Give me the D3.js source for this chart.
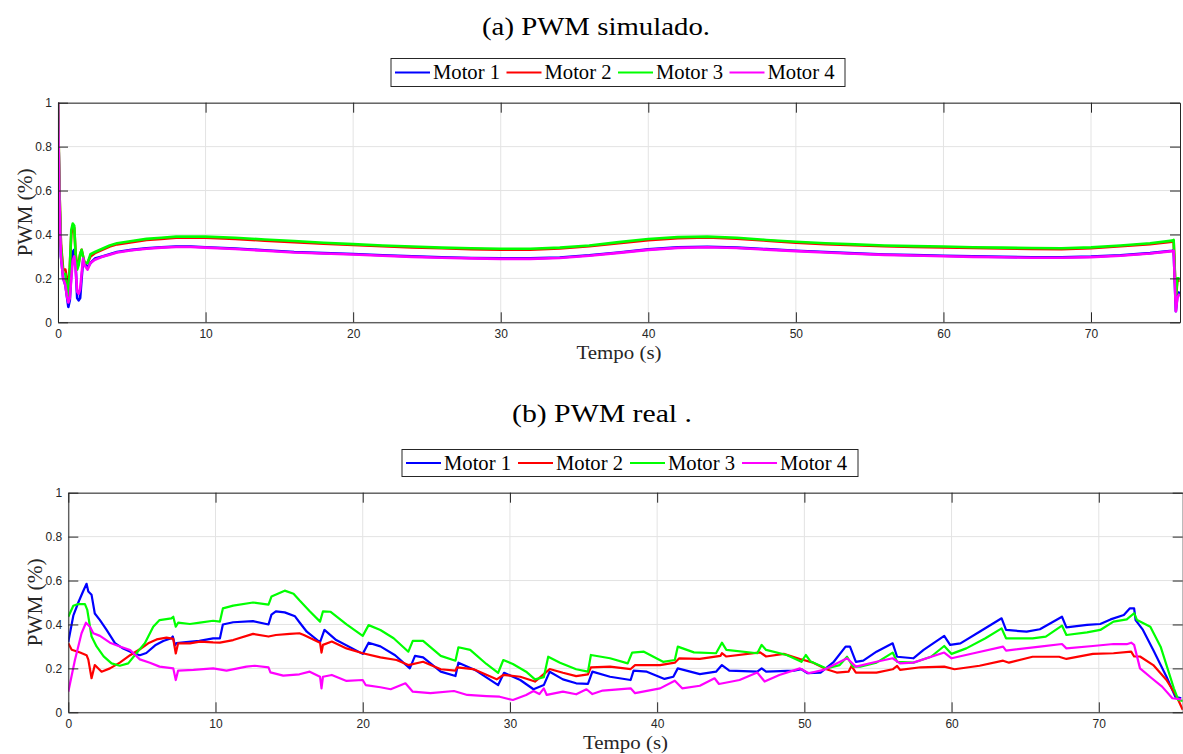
<!DOCTYPE html>
<html>
<head>
<meta charset="utf-8">
<script src="https://cdn.jsdelivr.net/npm/d3@7"></script>
<style>
  html, body { margin: 0; padding: 0; background: #fff; }
  svg { display: block; }
</style>
</head>
<body>
<svg id="chart" width="1183" height="754"></svg>
<script>
// ---------------- DATA ----------------
const seriesNames = ["Motor 1", "Motor 2", "Motor 3", "Motor 4"];
const seriesColors = ["#0000ff", "#ff0000", "#00ff00", "#ff00ff"];
const xTicks = [0, 10, 20, 30, 40, 50, 60, 70];
const yTicks = [0, 0.2, 0.4, 0.6, 0.8, 1];
const titleA = "(a) PWM simulado.";
const titleB = "(b) PWM real .";
const xLabel = "Tempo (s)";
const yLabel = "PWM (%)";

// (a) simulated — shared time base
const simT = [0, 0.1, 0.2, 0.35, 0.5, 0.6, 0.7, 0.8, 0.9, 1.0, 1.1, 1.2, 1.3, 1.4, 1.5, 1.6, 1.7, 1.8, 2.0, 2.2, 2.5, 3, 3.5, 4, 5, 6, 7, 8, 9, 10, 12, 14, 16, 18, 20, 22, 24, 26, 28, 30, 32, 34, 36, 38, 40, 42, 44, 46, 48, 50, 52, 54, 56, 58, 60, 62, 64, 66, 68, 70, 72, 74, 75.5, 75.6, 75.75, 75.85, 76];
const simM1 = [1.0, 0.55, 0.3, 0.2, 0.17, 0.12, 0.07, 0.1, 0.22, 0.32, 0.33, 0.25, 0.11, 0.1, 0.11, 0.2, 0.28, 0.27, 0.25, 0.27, 0.29, 0.3, 0.31, 0.32, 0.33, 0.337, 0.342, 0.345, 0.345, 0.342, 0.336, 0.328, 0.32, 0.315, 0.311, 0.305, 0.3, 0.296, 0.293, 0.291, 0.291, 0.295, 0.305, 0.318, 0.332, 0.341, 0.344, 0.34, 0.333, 0.326, 0.32, 0.314, 0.309, 0.306, 0.303, 0.3, 0.298, 0.296, 0.296, 0.299, 0.305, 0.315, 0.326, 0.328, 0.05, 0.12, 0.14];
const simM2 = [1.0, 0.6, 0.36, 0.24, 0.24, 0.2, 0.16, 0.25, 0.4, 0.44, 0.43, 0.31, 0.25, 0.27, 0.31, 0.33, 0.3, 0.27, 0.27, 0.3, 0.315, 0.33, 0.345, 0.355, 0.365, 0.375, 0.38, 0.385, 0.386, 0.385, 0.38, 0.372, 0.365, 0.358, 0.352, 0.346, 0.341, 0.337, 0.333, 0.331, 0.331, 0.336, 0.346, 0.36, 0.374, 0.383, 0.386, 0.381, 0.372, 0.363, 0.356, 0.351, 0.346, 0.343, 0.341, 0.338, 0.336, 0.334, 0.333, 0.337, 0.346, 0.356, 0.367, 0.37, 0.1, 0.19, 0.19];
const simM3 = [1.0, 0.6, 0.35, 0.22, 0.22, 0.15, 0.12, 0.25, 0.42, 0.45, 0.44, 0.3, 0.24, 0.26, 0.31, 0.33, 0.3, 0.27, 0.27, 0.31, 0.32, 0.335, 0.35, 0.36, 0.37, 0.38, 0.385, 0.39, 0.39, 0.39, 0.385, 0.377, 0.37, 0.362, 0.356, 0.35, 0.345, 0.34, 0.337, 0.335, 0.335, 0.34, 0.35, 0.365, 0.379, 0.388, 0.39, 0.385, 0.375, 0.367, 0.36, 0.355, 0.35, 0.347, 0.345, 0.342, 0.34, 0.338, 0.337, 0.341, 0.35, 0.36, 0.372, 0.375, 0.11, 0.2, 0.2];
const simM4 = [1.0, 0.55, 0.3, 0.2, 0.17, 0.12, 0.09, 0.11, 0.2, 0.28, 0.3, 0.24, 0.14, 0.13, 0.15, 0.22, 0.29, 0.26, 0.24, 0.27, 0.285, 0.298, 0.308, 0.318, 0.328, 0.335, 0.34, 0.343, 0.343, 0.34, 0.334, 0.326, 0.318, 0.313, 0.309, 0.303, 0.298, 0.294, 0.291, 0.289, 0.289, 0.293, 0.303, 0.316, 0.33, 0.339, 0.342, 0.338, 0.331, 0.324, 0.318, 0.312, 0.307, 0.304, 0.301, 0.298, 0.296, 0.294, 0.294, 0.297, 0.303, 0.313, 0.324, 0.326, 0.05, 0.11, 0.13];

// (b) real — each motor has its own sample times
const realM1T = [0, 0.34, 0.68, 1.0, 1.24, 1.36, 1.58, 1.8, 2.15, 2.6, 3.17, 3.73, 4.4, 4.86, 5.3, 5.9, 6.45, 7.0, 7.1, 7.24, 7.35, 8.0, 8.9, 9.84, 10.3, 10.5, 11.2, 12.55, 13.6, 13.8, 14.1, 14.7, 15.4, 15.7, 16.2, 17.1, 17.4, 18.2, 20.0, 20.4, 21.2, 22.2, 23.2, 23.55, 24.1, 25.3, 26.3, 26.5, 27.7, 29.2, 29.6, 30.7, 31.6, 32.3, 32.7, 33.6, 34.5, 35.3, 35.6, 36.8, 38.2, 38.4, 39.3, 40.5, 41.1, 41.4, 42.9, 44.0, 44.4, 44.9, 46.8, 47.1, 47.4, 49.3, 49.8, 50.2, 51.1, 52.0, 52.8, 53.1, 53.5, 54.0, 54.9, 56.0, 56.3, 57.4, 58.1, 59.5, 59.9, 60.6, 61.9, 63.4, 63.7, 65.1, 66.0, 67.5, 67.8, 69.2, 70.1, 70.8, 71.7, 72.1, 72.4, 72.5, 73.0, 73.7, 74.6, 75.2, 75.6];
const realM1V = [0.32, 0.44, 0.50, 0.55, 0.585, 0.55, 0.535, 0.45, 0.42, 0.375, 0.315, 0.29, 0.27, 0.26, 0.27, 0.305, 0.325, 0.337, 0.345, 0.305, 0.315, 0.32, 0.325, 0.337, 0.337, 0.40, 0.41, 0.415, 0.40, 0.445, 0.46, 0.455, 0.437, 0.41, 0.367, 0.319, 0.375, 0.329, 0.266, 0.317, 0.30, 0.26, 0.20, 0.257, 0.25, 0.185, 0.165, 0.226, 0.19, 0.124, 0.18, 0.147, 0.105, 0.124, 0.185, 0.15, 0.132, 0.129, 0.185, 0.162, 0.147, 0.19, 0.185, 0.152, 0.162, 0.20, 0.174, 0.185, 0.215, 0.19, 0.185, 0.20, 0.185, 0.19, 0.196, 0.178, 0.181, 0.23, 0.299, 0.299, 0.23, 0.235, 0.276, 0.314, 0.253, 0.246, 0.284, 0.348, 0.307, 0.314, 0.367, 0.428, 0.375, 0.367, 0.378, 0.435, 0.387, 0.398, 0.402, 0.423, 0.443, 0.473, 0.473, 0.42, 0.375, 0.284, 0.162, 0.071, 0.064];

const realM2T = [0, 0.23, 0.8, 1.24, 1.36, 1.58, 1.8, 2.26, 2.83, 3.5, 4.2, 4.86, 5.43, 6.0, 6.67, 7.13, 7.3, 7.46, 8.26, 8.94, 9.84, 10.3, 11.2, 12.55, 13.6, 14.1, 15.05, 15.7, 16.0, 17.1, 17.2, 17.3, 17.9, 18.9, 20.0, 21.2, 22.3, 23.1, 24.1, 25.3, 26.3, 26.4, 27.5, 29.1, 29.55, 30.7, 31.7, 32.7, 33.6, 34.5, 35.3, 35.5, 36.8, 38.2, 38.5, 40.2, 41.2, 41.5, 42.9, 44.3, 44.4, 44.7, 47.0, 47.4, 48.6, 49.7, 50.6, 51.5, 52.2, 53.0, 53.2, 53.5, 54.9, 56.0, 56.3, 56.5, 57.9, 59.5, 60.2, 61.9, 63.5, 63.9, 65.5, 67.3, 67.8, 69.6, 71.0, 72.2, 72.4, 72.8, 73.7, 74.6, 75.3, 75.7];
const realM2V = [0.314, 0.285, 0.272, 0.26, 0.24, 0.155, 0.215, 0.185, 0.20, 0.226, 0.26, 0.287, 0.314, 0.332, 0.34, 0.334, 0.268, 0.314, 0.314, 0.322, 0.318, 0.317, 0.329, 0.357, 0.345, 0.352, 0.357, 0.36, 0.352, 0.317, 0.272, 0.307, 0.322, 0.291, 0.269, 0.25, 0.238, 0.215, 0.23, 0.196, 0.19, 0.205, 0.197, 0.15, 0.17, 0.162, 0.14, 0.197, 0.18, 0.165, 0.173, 0.205, 0.208, 0.197, 0.215, 0.215, 0.226, 0.246, 0.243, 0.257, 0.269, 0.254, 0.273, 0.254, 0.266, 0.243, 0.226, 0.196, 0.181, 0.185, 0.211, 0.181, 0.181, 0.196, 0.211, 0.193, 0.205, 0.208, 0.196, 0.212, 0.235, 0.226, 0.253, 0.253, 0.243, 0.266, 0.269, 0.276, 0.254, 0.254, 0.215, 0.147, 0.071, 0.011];

const realM3T = [0, 0.34, 0.68, 1.13, 1.29, 1.58, 1.92, 2.4, 2.94, 3.5, 4.07, 4.64, 5.2, 5.77, 6.2, 7.0, 7.13, 7.3, 7.46, 8.26, 8.94, 9.84, 10.3, 10.5, 11.2, 12.55, 13.6, 13.8, 14.7, 15.3, 15.7, 16.4, 17.1, 17.3, 17.8, 18.9, 20.0, 20.4, 21.2, 22.1, 23.1, 23.4, 24.1, 25.3, 26.3, 26.5, 27.3, 28.4, 29.2, 29.55, 30.2, 31.1, 31.7, 32.3, 32.6, 33.4, 34.5, 35.3, 35.5, 36.8, 38.0, 38.3, 39.1, 40.4, 41.2, 41.4, 42.5, 44.0, 44.4, 44.7, 46.8, 47.1, 47.4, 48.8, 49.8, 50.1, 50.4, 51.5, 52.4, 52.9, 53.3, 53.8, 54.9, 56.0, 56.3, 57.4, 58.6, 59.5, 60.0, 61.0, 62.3, 63.4, 63.7, 65.5, 66.4, 67.5, 67.8, 69.2, 70.1, 71.0, 71.9, 72.4, 72.6, 73.5, 74.2, 75.1, 75.4, 75.7];
const realM3V = [0.435, 0.485, 0.493, 0.493, 0.466, 0.345, 0.30, 0.255, 0.223, 0.212, 0.223, 0.27, 0.315, 0.39, 0.42, 0.428, 0.435, 0.39, 0.408, 0.402, 0.408, 0.417, 0.413, 0.473, 0.486, 0.50, 0.49, 0.527, 0.554, 0.54, 0.51, 0.46, 0.413, 0.46, 0.458, 0.40, 0.348, 0.397, 0.375, 0.337, 0.276, 0.325, 0.325, 0.257, 0.235, 0.296, 0.284, 0.22, 0.18, 0.238, 0.22, 0.185, 0.15, 0.16, 0.253, 0.226, 0.196, 0.185, 0.261, 0.246, 0.223, 0.272, 0.276, 0.23, 0.238, 0.299, 0.273, 0.269, 0.317, 0.284, 0.269, 0.307, 0.284, 0.261, 0.23, 0.261, 0.233, 0.20, 0.215, 0.253, 0.208, 0.208, 0.226, 0.272, 0.23, 0.226, 0.253, 0.302, 0.266, 0.291, 0.337, 0.382, 0.337, 0.337, 0.345, 0.395, 0.352, 0.364, 0.375, 0.413, 0.423, 0.451, 0.42, 0.39, 0.299, 0.109, 0.056, 0.052];

const realM4T = [0, 0.45, 0.9, 1.2, 1.47, 1.7, 2.15, 2.83, 3.5, 4.2, 4.86, 5.54, 6.2, 7.13, 7.3, 7.46, 8.5, 9.84, 10.75, 12.1, 12.67, 13.6, 13.73, 14.6, 15.7, 16.4, 17.1, 17.2, 17.3, 17.9, 18.9, 20.0, 20.2, 21.2, 21.9, 22.9, 23.4, 24.6, 26.2, 27.1, 28.4, 29.3, 30.2, 31.1, 31.6, 32.0, 32.3, 32.5, 33.6, 34.5, 35.2, 35.6, 36.3, 38.2, 38.5, 40.2, 41.2, 41.7, 42.9, 43.9, 44.2, 45.6, 46.8, 47.3, 48.3, 49.7, 50.3, 51.3, 52.9, 53.5, 54.9, 56.0, 56.5, 57.4, 59.5, 60.0, 61.5, 63.5, 63.7, 66.0, 67.5, 67.8, 69.6, 71.0, 71.9, 72.2, 72.4, 72.8, 73.6, 74.3, 75.0, 75.6];
const realM4V = [0.094, 0.238, 0.36, 0.408, 0.39, 0.36, 0.348, 0.317, 0.30, 0.284, 0.241, 0.226, 0.208, 0.20, 0.147, 0.19, 0.193, 0.20, 0.19, 0.208, 0.212, 0.205, 0.182, 0.167, 0.173, 0.185, 0.162, 0.109, 0.162, 0.17, 0.143, 0.147, 0.124, 0.114, 0.105, 0.132, 0.094, 0.087, 0.097, 0.079, 0.074, 0.071, 0.056, 0.079, 0.097, 0.083, 0.109, 0.079, 0.094, 0.082, 0.105, 0.083, 0.099, 0.109, 0.087, 0.109, 0.144, 0.109, 0.121, 0.155, 0.129, 0.147, 0.181, 0.14, 0.17, 0.20, 0.178, 0.193, 0.246, 0.208, 0.23, 0.246, 0.223, 0.226, 0.272, 0.246, 0.269, 0.299, 0.281, 0.299, 0.311, 0.291, 0.302, 0.311, 0.31, 0.317, 0.307, 0.20, 0.155, 0.117, 0.064, 0.059];

// ---------------- DRAWING ----------------
const svg = d3.select("#chart");
const serif = "'Liberation Serif', 'Times New Roman', serif";
const sans = "'Liberation Sans', Arial, Helvetica, sans-serif";
const axisColor = "#262626";
const gridColor = "#e3e3e3";

const panels = [
  {
    id: "a", title: titleA, titleX: 596, titleY: 35, titleLen: 228,
    left: 58, right: 1180, top: 102.7, bottom: 322.3, xMax: 76.03,
    legend: { x: 391, y: 58.5, w: 454, h: 28 },
    xLabelY: 359, yLabelX: 32, lineW: 2.6,
    series: [simT, simT, simT, simT].map((t, i) => ({ t, v: [simM1, simM2, simM3, simM4][i] }))
  },
  {
    id: "b", title: titleB, titleX: 602, titleY: 422, titleLen: 180,
    left: 68.3, right: 1182.7, top: 492.7, bottom: 712.3, xMax: 75.7,
    legend: { x: 402, y: 449.5, w: 456, h: 27 },
    xLabelY: 749, yLabelX: 42, lineW: 2.2,
    series: [
      { t: realM1T, v: realM1V }, { t: realM2T, v: realM2V },
      { t: realM3T, v: realM3V }, { t: realM4T, v: realM4V }
    ]
  }
];

panels.forEach(p => {
  const x = d3.scaleLinear().domain([0, p.xMax]).range([p.left, p.right]);
  const y = d3.scaleLinear().domain([0, 1]).range([p.bottom, p.top]);
  const g = svg.append("g");

  g.append("rect").attr("x", p.left).attr("y", p.top)
    .attr("width", p.right - p.left).attr("height", p.bottom - p.top).attr("fill", "#fff");

  // grid
  g.append("g").selectAll("line").data(xTicks).join("line")
    .attr("x1", d => x(d)).attr("x2", d => x(d)).attr("y1", p.top).attr("y2", p.bottom)
    .attr("stroke", gridColor).attr("stroke-width", 1);
  g.append("g").selectAll("line").data(yTicks).join("line")
    .attr("y1", d => y(d)).attr("y2", d => y(d)).attr("x1", p.left).attr("x2", p.right)
    .attr("stroke", gridColor).attr("stroke-width", 1);

  // data lines
  const clipId = "clip-" + p.id;
  svg.append("defs").append("clipPath").attr("id", clipId).append("rect")
    .attr("x", p.left).attr("y", p.top - 2).attr("width", p.right - p.left).attr("height", p.bottom - p.top + 4);
  const line = d3.line().x(d => x(d[0])).y(d => y(d[1]));
  const lg = g.append("g").attr("clip-path", `url(#${clipId})`);
  p.series.forEach((s, i) => {
    const pts = s.t.map((t, k) => [t, s.v[k]]);
    lg.append("path").datum(pts).attr("d", line)
      .attr("fill", "none").attr("stroke", seriesColors[i])
      .attr("stroke-width", p.lineW).attr("stroke-linejoin", "round");
  });

  // axes (inward ticks on all four sides, box)
  const tl = 10;
  const axB = d3.axisBottom(x).tickValues(xTicks).tickSizeInner(-tl).tickSizeOuter(0).tickPadding(7);
  const axT = d3.axisTop(x).tickValues(xTicks).tickSizeInner(-tl).tickSizeOuter(0).tickFormat("");
  const axL = d3.axisLeft(y).tickValues(yTicks).tickSizeInner(-tl).tickSizeOuter(0).tickPadding(6)
    .tickFormat(d => d === 0 ? "0" : d === 1 ? "1" : d3.format(".1f")(d));
  const axR = d3.axisRight(y).tickValues(yTicks).tickSizeInner(-tl).tickSizeOuter(0).tickFormat("");

  const styleAxis = sel => {
    sel.selectAll(".domain").attr("stroke", axisColor).attr("stroke-width", 1);
    sel.selectAll(".tick line").attr("stroke", axisColor).attr("stroke-width", 1);
    sel.selectAll(".tick text").attr("fill", axisColor).style("font-family", sans).style("font-size", "12px");
  };
  g.append("g").attr("transform", `translate(0,${p.bottom})`).call(axB).call(styleAxis);
  g.append("g").attr("transform", `translate(0,${p.top})`).call(axT).call(styleAxis);
  g.append("g").attr("transform", `translate(${p.left},0)`).call(axL).call(styleAxis);
  g.append("g").attr("transform", `translate(${p.right},0)`).call(axR).call(styleAxis);

  // title
  svg.append("text").attr("x", p.titleX).attr("y", p.titleY).attr("text-anchor", "middle")
    .attr("textLength", p.titleLen).attr("lengthAdjust", "spacingAndGlyphs")
    .style("font-family", serif).style("font-size", "26px").attr("fill", "#000").text(p.title);

  // axis labels
  svg.append("text").attr("x", (p.left + p.right) / 2).attr("y", p.xLabelY).attr("text-anchor", "middle")
    .attr("textLength", 85).attr("lengthAdjust", "spacingAndGlyphs")
    .style("font-family", serif).style("font-size", "19px").attr("fill", "#262626").text(xLabel);
  svg.append("text").attr("transform", `translate(${p.yLabelX},${(p.top + p.bottom) / 2}) rotate(-90)`)
    .attr("text-anchor", "middle").attr("textLength", 88).attr("lengthAdjust", "spacingAndGlyphs")
    .style("font-family", serif).style("font-size", "20px").attr("fill", "#262626").text(yLabel);

  // legend
  const L = p.legend;
  const leg = svg.append("g");
  leg.append("rect").attr("x", L.x).attr("y", L.y).attr("width", L.w).attr("height", L.h)
    .attr("fill", "#fff").attr("stroke", "#262626").attr("stroke-width", 1);
  const itemW = (L.w - 8) / 4;
  seriesNames.forEach((name, i) => {
    const ix = L.x + 4 + i * itemW;
    const cy = L.y + L.h / 2;
    leg.append("line").attr("x1", ix).attr("x2", ix + 35).attr("y1", cy).attr("y2", cy)
      .attr("stroke", seriesColors[i]).attr("stroke-width", 2.2);
    leg.append("text").attr("x", ix + 38).attr("y", cy + 6.5)
      .attr("textLength", 67).attr("lengthAdjust", "spacingAndGlyphs")
      .style("font-family", serif).style("font-size", "20px").attr("fill", "#000").text(name);
  });
});
</script>
</body>
</html>
